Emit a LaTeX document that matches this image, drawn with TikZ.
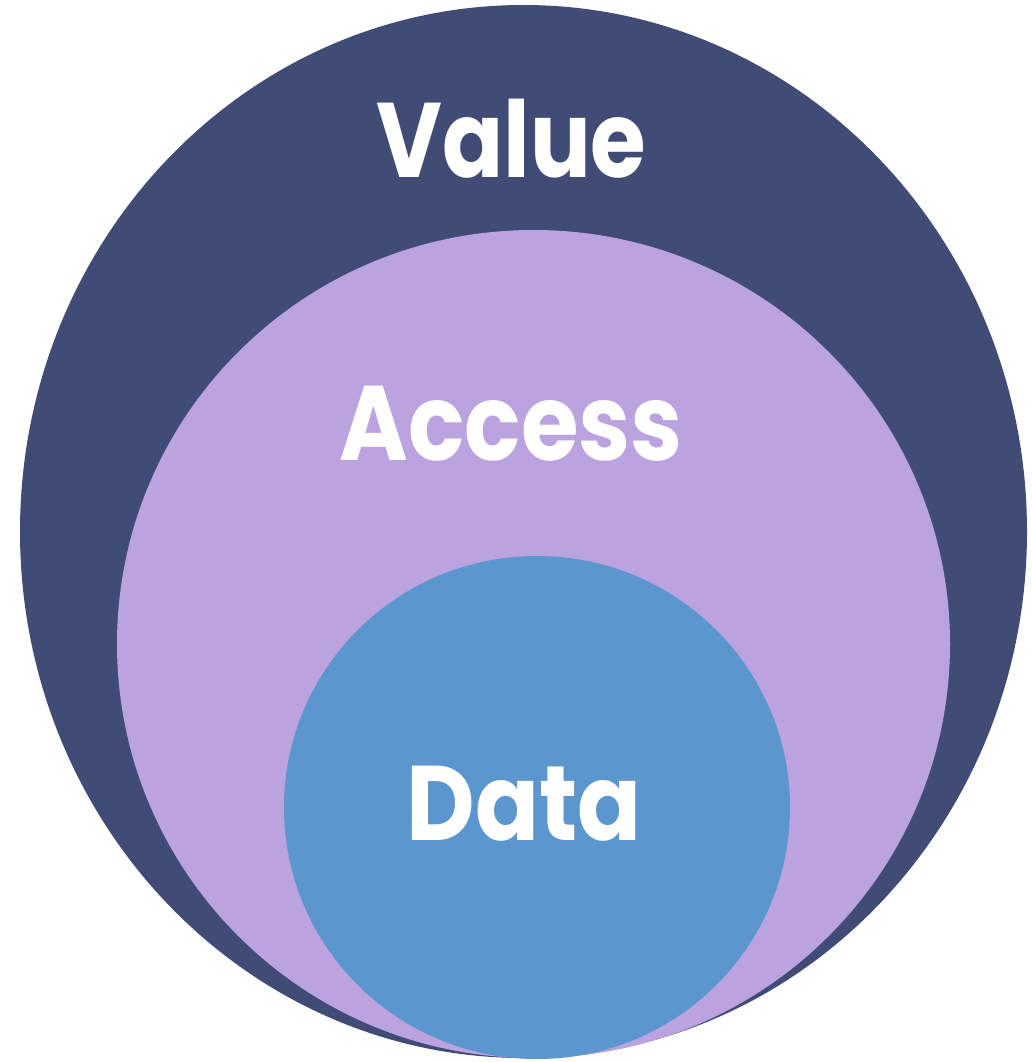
\documentclass[tikz,border=0pt]{standalone}
\usepackage{fontspec}
\usepackage{graphicx}
\setmainfont{Poppins}
\definecolor{navy}{HTML}{414C76}
\definecolor{lav}{HTML}{BBA3E0}
\definecolor{blu}{HTML}{5B97CE}
\newcommand{\narrowlbl}[2]{\scalebox{#1}[1]{#2}}
\begin{document}
\begin{tikzpicture}[x=1pt,y=-1pt,
  lbl/.style={text=white,font=\fontsize{106}{106}\selectfont\bfseries,anchor=base,inner sep=0pt}]
\useasboundingbox (0,0) rectangle (1032,1062);
\fill[navy] (523.5,531.5) ellipse [x radius=503.5, y radius=526.5];
\fill[lav] (533.5,644) ellipse [x radius=416.5, y radius=414];
\fill[blu] (537,807.5) ellipse [x radius=253, y radius=251.5];
\node[lbl] (value) at (511.5,177) {\narrowlbl{0.85}{Value}};
\node[lbl] (access) at (511,460) {\narrowlbl{0.88}{Access}};
\node[lbl] (data) at (524,840) {\narrowlbl{0.89}{Data}};
\end{tikzpicture}
\end{document}
